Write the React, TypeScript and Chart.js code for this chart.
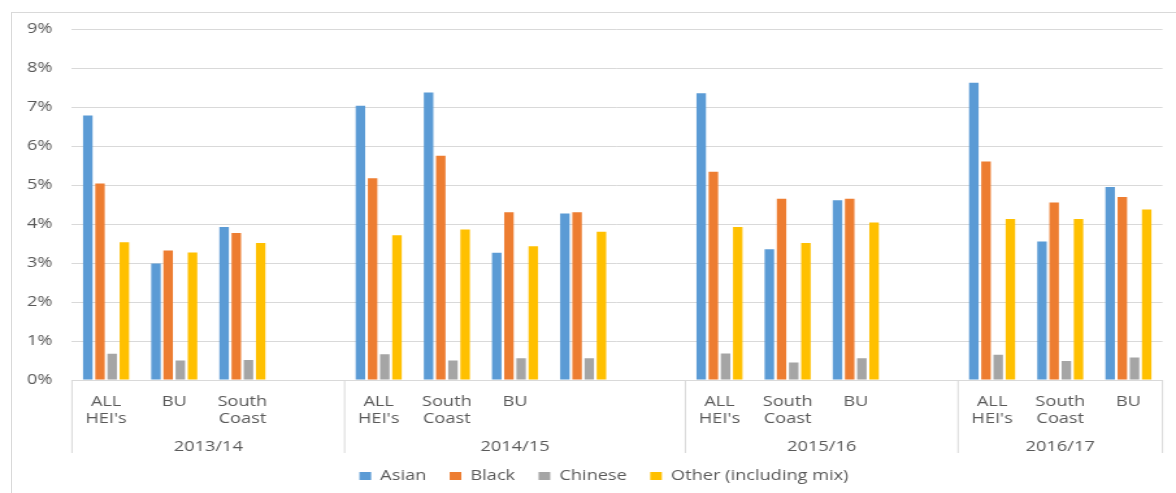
import { useEffect, useRef } from 'react';
import { Chart, registerables } from 'chart.js';

Chart.register(...registerables);

// Institutions within each academic year; blank slots keep the year groups apart.
const categories: (string | string[])[] = [
  ['ALL', "HEI's"], 'BU', ['South', 'Coast'], '',
  ['ALL', "HEI's"], ['South', 'Coast'], 'BU', '', '',
  ['ALL', "HEI's"], ['South', 'Coast'], 'BU', '',
  ['ALL', "HEI's"], ['South', 'Coast'], 'BU',
];

const periods = ['2013/14', '2014/15', '2015/16', '2016/17'];
const periodSpans = [4, 5, 4, 3];

// Share of students (%) by ethnic group
const asian = [6.78, 2.99, 3.92, null, 7.03, 7.37, 3.26, 4.27, null, 7.35, 3.35, 4.61, null, 7.62, 3.55, 4.95];
const black = [5.04, 3.32, 3.77, null, 5.17, 5.75, 4.30, 4.30, null, 5.34, 4.65, 4.65, null, 5.60, 4.55, 4.69];
const chinese = [0.67, 0.50, 0.51, null, 0.66, 0.50, 0.56, 0.56, null, 0.68, 0.45, 0.56, null, 0.65, 0.49, 0.58];
const other = [3.53, 3.27, 3.51, null, 3.71, 3.86, 3.43, 3.80, null, 3.92, 3.51, 4.04, null, 4.13, 4.13, 4.37];

const yMax = 9;
const yStep = 1;

const FONT = '"Open Sans", sans-serif';
const TEXT = '#595959';
const LINE = '#d9d9d9';

// Second level of the category axis: year dividers and year labels.
const periodAxis = {
  id: 'periodAxis',
  afterLayout(chart: any) {
    // centre the legend under the plot rather than the whole canvas
    const lg = chart.legend;
    if (lg) {
      lg.left += 7.5;
      lg.right += 7.5;
    }
  },
  afterDraw(chart: any) {
    const x = chart.scales.x;
    const { ctx, chartArea } = chart;
    const step = x.getPixelForValue(1) - x.getPixelForValue(0);
    const edge = (i: number) => x.getPixelForValue(i) - step / 2;
    const top = chartArea.bottom;
    const bottom = chartArea.bottom + 73;
    ctx.save();
    ctx.strokeStyle = LINE;
    ctx.lineWidth = 1;
    ctx.font = `14px ${FONT}`;
    ctx.fillStyle = TEXT;
    ctx.textAlign = 'center';
    ctx.textBaseline = 'middle';
    const divider = (px: number) => {
      ctx.beginPath();
      ctx.moveTo(px, top);
      ctx.lineTo(px, bottom);
      ctx.stroke();
    };
    divider(edge(0));
    let start = 0;
    periods.forEach((label, k) => {
      const end = start + periodSpans[k];
      const l = edge(start);
      const r = edge(end);
      divider(r);
      ctx.fillText(label, (l + r) / 2, chartArea.bottom + 67);
      start = end;
    });
    ctx.restore();
  },
};

export default function App() {
  const canvasRef = useRef<HTMLCanvasElement | null>(null);

  useEffect(() => {
    const canvas = canvasRef.current;
    if (!canvas) return;
    const bar = { barPercentage: 0.78, categoryPercentage: 0.715, borderWidth: 0 };
    const chart = new Chart(canvas, {
      type: 'bar',
      data: {
        labels: categories,
        datasets: [
          { label: 'Asian', data: asian, backgroundColor: '#5b9bd5', ...bar },
          { label: 'Black', data: black, backgroundColor: '#ed7d31', ...bar },
          { label: 'Chinese', data: chinese, backgroundColor: '#a5a5a5', ...bar },
          { label: 'Other (including mix)', data: other, backgroundColor: '#ffc000', ...bar },
        ],
      },
      plugins: [periodAxis],
      options: {
        animation: false,
        responsive: false,
        layout: { padding: { left: 20, right: 10.4, top: 29, bottom: 0 } },
        plugins: {
          tooltip: { enabled: false },
          legend: {
            position: 'bottom',
            labels: {
              boxWidth: 9,
              boxHeight: 8,
              padding: 18,
              color: TEXT,
              font: { family: FONT, size: 14 },
            },
          },
        },
        scales: {
          x: {
            grid: { display: false, drawTicks: false },
            border: { display: true, color: LINE },
            ticks: {
              color: TEXT,
              font: { family: FONT, size: 14, lineHeight: 1.2 },
              padding: 14,
              autoSkip: false,
              maxRotation: 0,
            },
            afterFit: (s: any) => {
              s.height = 71;
            },
          },
          y: {
            min: 0,
            max: yMax,
            ticks: {
              stepSize: yStep,
              callback: (v: any) => `${v}%`,
              color: TEXT,
              font: { family: FONT, size: 14 },
              padding: 15,
            },
            grid: { color: LINE, drawTicks: false },
            border: { display: false },
            afterFit: (s: any) => {
              s.width = 35.4;
            },
          },
        },
      },
    });
    return () => chart.destroy();
  }, []);

  return (
    <div
      style={{
        position: 'absolute',
        left: 0,
        top: 0,
        width: 1176,
        height: 493,
        overflow: 'hidden',
        background: '#ffffff',
      }}
    >
      <div
        style={{
          position: 'absolute',
          left: 11,
          top: 12,
          width: 1200,
          height: 520,
          border: `1px solid ${LINE}`,
        }}
      />
      <canvas
        ref={canvasRef}
        width={905}
        height={493}
        style={{ position: 'absolute', left: 0, top: 0, width: 1176, height: 493 }}
      />
    </div>
  );
}
